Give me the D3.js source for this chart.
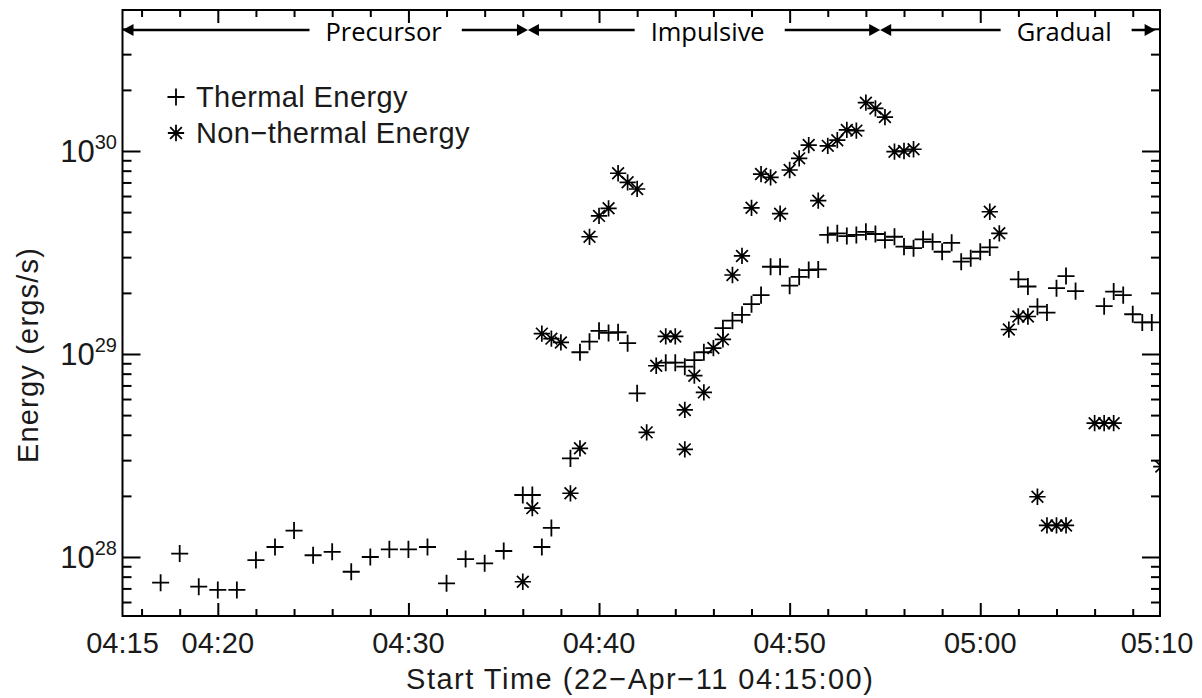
<!DOCTYPE html>
<html>
<head>
<meta charset="utf-8">
<script src="https://cdn.jsdelivr.net/npm/d3@7"></script>
<style>
  body { margin: 0; background: #fff; }
  svg text { font-family: "Liberation Sans", Arial, sans-serif; fill: #1a1a1a; }
  svg text.phase { font-family: "Open Sans", sans-serif; fill: #000; }
</style>
</head>
<body>
<svg id="chart" width="1202" height="698"></svg>
<script>
// Minutes after the start time, energy in ergs/s
var startTime = '2011-04-22T04:15:00Z';

var thermalTime = [
  2, 3, 4, 5, 6, 7, 8, 9, 10, 11, 12, 13, 14, 15, 16, 17, 18, 19, 20,
  21, 21.5, 22, 22.5, 23.5, 24, 24.5, 25, 25.5, 26, 26.5, 27,
  28.5, 29, 29.5, 30, 30.5, 31.5, 32, 32.5, 33, 33.5, 34, 34.5,
  35, 35.5, 36, 36.5, 37, 37.5, 38, 38.5, 39, 39.5, 40, 40.5, 41, 41.5,
  42, 42.5, 43, 43.5, 44, 44.5, 45, 45.5,
  47, 47.5, 48, 48.5, 49, 49.5, 50, 51.5, 52, 52.5, 53, 53.5, 54
];
var thermalEnergy = [
  7.47e27, 1.04e28, 7.14e27, 6.88e27, 6.88e27, 9.66e27, 1.12e28, 1.35e28, 1.02e28,
  1.06e28, 8.46e27, 1.00e28, 1.09e28, 1.09e28, 1.12e28, 7.42e27, 9.77e27, 9.31e27, 1.07e28,
  2.02e28, 2.02e28, 1.12e28, 1.39e28, 3.06e28, 1.02e29, 1.15e29, 1.30e29, 1.27e29, 1.28e29, 1.13e29, 6.40e28,
  9.06e28, 9.06e28, 8.66e28, 9.33e28, 1.02e29, 1.34e29, 1.46e29, 1.56e29, 1.76e29, 1.95e29, 2.69e29, 2.69e29,
  2.17e29, 2.40e29, 2.59e29, 2.61e29, 3.86e29, 3.93e29, 3.81e29, 3.86e29, 4.00e29, 3.90e29, 3.64e29, 3.78e29, 3.38e29, 3.32e29,
  3.67e29, 3.57e29, 3.19e29, 3.53e29, 2.85e29, 2.96e29, 3.19e29, 3.35e29,
  2.33e29, 2.15e29, 1.71e29, 1.60e29, 2.11e29, 2.42e29, 2.04e29, 1.72e29, 2.03e29, 1.95e29, 1.57e29, 1.43e29, 1.43e29
];

var nonthermalTime = [
  21, 21.5, 22, 22.5, 23, 23.5, 24, 24.5, 25, 25.5, 26, 26.5, 27, 27.5,
  28, 28.5, 29, 29.5, 29.5, 30, 30.5, 31, 31.5, 32, 32.5, 33, 33.5, 34, 34.5,
  35, 35.5, 36, 36.5, 37, 37.5, 38, 38.5, 39, 39.5, 40, 40.5, 41, 41.5,
  45.5, 46, 46.5, 47, 47.5, 48, 48.5, 49, 49.5, 51, 51.5, 52, 54.5
];
var nonthermalEnergy = [
  7.55e27, 1.74e28, 1.26e29, 1.19e29, 1.14e29, 2.06e28, 3.43e28, 3.78e29, 4.79e29, 5.22e29, 7.77e29, 7.01e29, 6.50e29, 4.11e28,
  8.75e28, 1.22e29, 1.22e29, 5.30e28, 3.39e28, 7.82e28, 6.47e28, 1.07e29, 1.18e29, 2.45e29, 3.04e29, 5.25e29, 7.70e29, 7.42e29, 4.91e29,
  8.06e29, 9.20e29, 1.07e30, 5.69e29, 1.06e30, 1.13e30, 1.27e30, 1.26e30, 1.73e30, 1.62e30, 1.47e30, 9.92e29, 1.00e30, 1.02e30,
  5.02e29, 3.93e29, 1.32e29, 1.53e29, 1.53e29, 1.98e28, 1.43e28, 1.43e28, 1.43e28, 4.56e28, 4.56e28, 4.56e28, 2.79e28
];

var xTickLabels = ['04:15', '04:20', '04:30', '04:40', '04:50', '05:00', '05:10'];
var yTickExponents = [28, 29, 30];

// Flare phases (minutes after the start time)
var phaseNames = ['Precursor', 'Impulsive', 'Gradual'];
var phaseBounds = [0, 21.27, 39.75, 54.2];
var phaseLabelAt = [13.7, 30.7, 49.4];

var legendLabels = ['Thermal Energy', 'Non\u2212thermal Energy'];
var xTitle = 'Start Time (22\u2212Apr\u221211 04:15:00)';
var yTitle = 'Energy (ergs/s)';

// Layout
var plot = { left: 122.5, right: 1160, top: 10, bottom: 616 };
var t0 = new Date(startTime);
var toDate = function (m) {
  return new Date(t0.getTime() + m * 60000);
};

var x = d3.scaleUtc()
  .domain([t0, toDate(54.43)])
  .range([plot.left, plot.right]);
var y = d3.scaleLog()
  .domain([5.12e27, 4.95e30])
  .range([plot.bottom, plot.top]);

var svg = d3.select('#chart');

// Marker shapes in the style of IDL psym 1 and 2
var plusSymbol = {
  draw: function (context, size) {
    var r = Math.sqrt(size) / 2;
    context.moveTo(-r, 0);
    context.lineTo(r, 0);
    context.moveTo(0, -r);
    context.lineTo(0, r);
  }
};
var asteriskSymbol = {
  draw: function (context, size) {
    var r = Math.sqrt(size) / 2;
    var d = r * 0.72;
    context.moveTo(-r, 0);
    context.lineTo(r, 0);
    context.moveTo(0, -r);
    context.lineTo(0, r);
    context.moveTo(-d, -d);
    context.lineTo(d, d);
    context.moveTo(-d, d);
    context.lineTo(d, -d);
  }
};
var plus = d3.symbol().type(plusSymbol).size(290);
var asterisk = d3.symbol().type(asteriskSymbol).size(265);

// Ticks on all four sides
var xDomain = x.domain();
var xMajor = d3.utcMinute.every(10).range(xDomain[0], xDomain[1]);
var xMinor = d3.utcMinute.every(2).range(xDomain[0], xDomain[1])
  .filter(function (d) { return d.getUTCMinutes() % 10 !== 0; });

var yMajor = yTickExponents.map(function (e) { return Math.pow(10, e); });
var yMinor = [];
[27, 28, 29, 30].forEach(function (e) {
  for (var k = 2; k <= 9; k++) {
    var v = k * Math.pow(10, e);
    if (v >= y.domain()[0] && v <= y.domain()[1]) yMinor.push(v);
  }
});

var addAxis = function (axis, transform) {
  svg.append('g')
    .attr('transform', transform)
    .call(axis)
    .call(function (g) {
      g.select('.domain').remove();
      g.selectAll('line').attr('stroke', '#000').attr('stroke-width', 2);
    });
};
var bottomT = 'translate(0,' + plot.bottom + ')';
var topT = 'translate(0,' + plot.top + ')';
var leftT = 'translate(' + plot.left + ',0)';
var rightT = 'translate(' + plot.right + ',0)';

addAxis(d3.axisBottom(x).tickValues(xMajor).tickSize(-13).tickFormat(''), bottomT);
addAxis(d3.axisBottom(x).tickValues(xMinor).tickSize(-7).tickFormat(''), bottomT);
addAxis(d3.axisTop(x).tickValues(xMajor).tickSize(-13).tickFormat(''), topT);
addAxis(d3.axisTop(x).tickValues(xMinor).tickSize(-7).tickFormat(''), topT);
addAxis(d3.axisLeft(y).tickValues(yMajor).tickSize(-18).tickFormat(''), leftT);
addAxis(d3.axisLeft(y).tickValues(yMinor).tickSize(-9).tickFormat(''), leftT);
addAxis(d3.axisRight(y).tickValues(yMajor).tickSize(-18).tickFormat(''), rightT);
addAxis(d3.axisRight(y).tickValues(yMinor).tickSize(-9).tickFormat(''), rightT);

// Frame
svg.append('rect')
  .attr('x', plot.left)
  .attr('y', plot.top)
  .attr('width', plot.right - plot.left)
  .attr('height', plot.bottom - plot.top)
  .attr('fill', 'none')
  .attr('stroke', '#000')
  .attr('stroke-width', 2);

// X tick labels (the last one is held at the axis end)
var parseHM = d3.utcParse('%Y-%m-%d %H:%M');
svg.append('g')
  .selectAll('text')
  .data(xTickLabels)
  .enter()
  .append('text')
  .attr('x', function (d) {
    return Math.min(x(parseHM('2011-04-22 ' + d)), plot.right - 3);
  })
  .attr('y', 653)
  .attr('text-anchor', 'middle')
  .attr('font-size', 29)
  .text(function (d) { return d; });

// Y tick labels as powers of ten
var yLabels = svg.append('g')
  .selectAll('text')
  .data(yTickExponents)
  .enter()
  .append('text')
  .attr('x', 117)
  .attr('y', function (d) { return y(Math.pow(10, d)) + 11; })
  .attr('text-anchor', 'end')
  .attr('font-size', 31);
yLabels.append('tspan').text('10');
yLabels.append('tspan')
  .attr('dy', -13)
  .attr('font-size', 20)
  .text(function (d) { return d; });

// Axis titles
svg.append('text')
  .attr('x', (plot.left + plot.right) / 2 - 1)
  .attr('y', 689)
  .attr('text-anchor', 'middle')
  .attr('font-size', 29)
  .attr('letter-spacing', 1.5)
  .text(xTitle);
svg.append('text')
  .attr('transform', 'translate(38,355) rotate(-90)')
  .attr('text-anchor', 'middle')
  .attr('font-size', 29)
  .attr('letter-spacing', 1.2)
  .text(yTitle);

// Data markers, clipped to the plot window
svg.append('clipPath')
  .attr('id', 'plot-clip')
  .append('rect')
  .attr('x', plot.left)
  .attr('y', plot.top)
  .attr('width', plot.right - plot.left)
  .attr('height', plot.bottom - plot.top);

var marks = svg.append('g').attr('clip-path', 'url(#plot-clip)');
var drawSeries = function (times, values, symbol, width) {
  marks.append('g')
    .selectAll('path')
    .data(times)
    .enter()
    .append('path')
    .attr('d', symbol)
    .attr('transform', function (d, i) {
      return 'translate(' + x(toDate(d)) + ',' + y(values[i]) + ')';
    })
    .attr('fill', 'none')
    .attr('stroke', '#000')
    .attr('stroke-width', width);
};
drawSeries(thermalTime, thermalEnergy, plus, 1.8);
drawSeries(nonthermalTime, nonthermalEnergy, asterisk, 1.7);

// Legend
var legend = svg.append('g');
[plus, asterisk].forEach(function (symbol, i) {
  var cy = 97 + i * 36;
  legend.append('path')
    .attr('d', symbol)
    .attr('transform', 'translate(176,' + cy + ')')
    .attr('fill', 'none')
    .attr('stroke', '#000')
    .attr('stroke-width', 1.8);
  legend.append('text')
    .attr('x', 196)
    .attr('y', cy + 10)
    .attr('font-size', 29)
    .attr('letter-spacing', 0.4)
    .text(legendLabels[i]);
});

// Phase arrows along the top
var arrowY = 30;
var head = function (tip, dir) {
  return 'M' + tip + ',' + arrowY +
    'L' + (tip - dir * 11) + ',' + (arrowY - 6) +
    'L' + (tip - dir * 11) + ',' + (arrowY + 6) + 'Z';
};
var phases = svg.append('g');
phaseNames.forEach(function (name, i) {
  var x0 = x(toDate(phaseBounds[i]));
  var x1 = x(toDate(phaseBounds[i + 1]));
  var xc = x(toDate(phaseLabelAt[i]));
  var label = phases.append('text')
    .attr('class', 'phase')
    .attr('x', xc)
    .attr('y', arrowY + 10.5)
    .attr('text-anchor', 'middle')
    .attr('font-size', 25.5)
    .text(name);
  var w = label.node().getComputedTextLength();
  phases.append('path')
    .attr('d', 'M' + (x0 + 4) + ',' + arrowY + 'H' + (xc - w / 2 - 16) +
      'M' + (xc + w / 2 + 20) + ',' + arrowY + 'H' + (x1 - 4))
    .attr('stroke', '#000')
    .attr('stroke-width', 2.5);
  phases.append('path').attr('d', head(x0, -1)).attr('fill', '#000');
  phases.append('path').attr('d', head(x1, 1)).attr('fill', '#000');
});
</script>
</body>
</html>
